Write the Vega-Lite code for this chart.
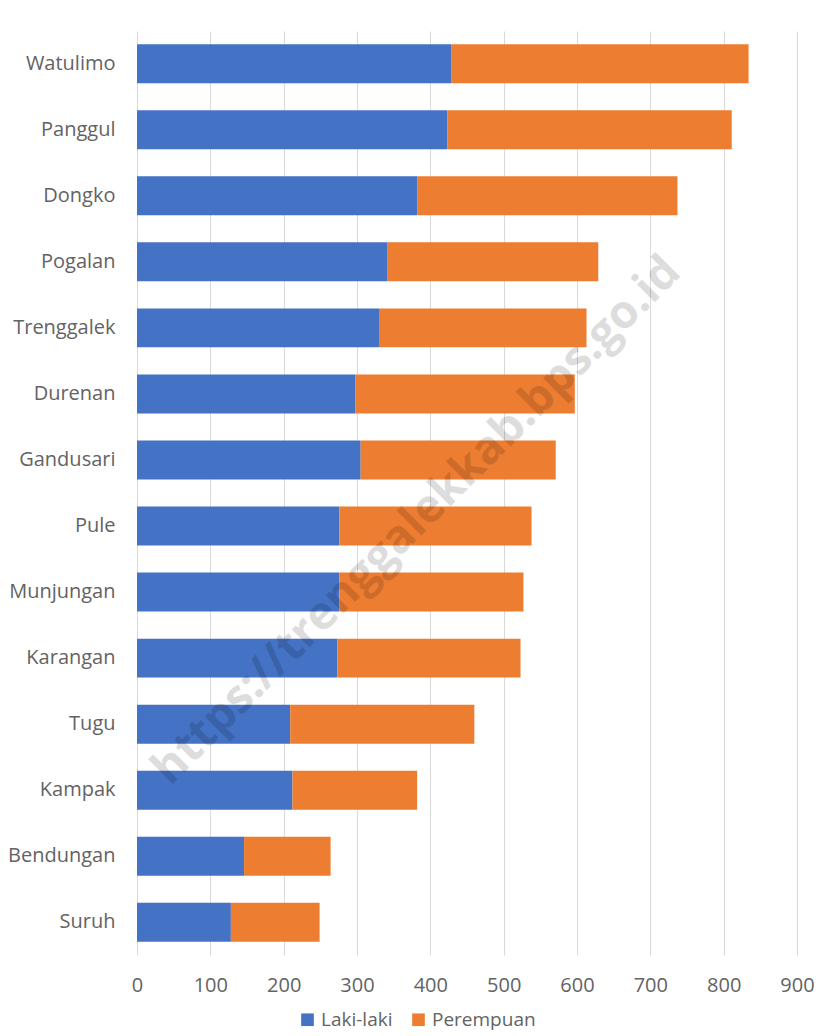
{
  "$schema": "https://vega.github.io/schema/vega-lite/v6.json",
  "width": 660,
  "height": 924,
  "autosize": {"type": "none"},
  "padding": {"left": 137, "top": 31, "right": 22, "bottom": 81},
  "background": "white",
  "datasets": {
    "pop": [
      {"kecamatan": "Watulimo", "jk": "Laki-laki", "n": 429},
      {"kecamatan": "Watulimo", "jk": "Perempuan", "n": 405},
      {"kecamatan": "Panggul", "jk": "Laki-laki", "n": 423},
      {"kecamatan": "Panggul", "jk": "Perempuan", "n": 388},
      {"kecamatan": "Dongko", "jk": "Laki-laki", "n": 382},
      {"kecamatan": "Dongko", "jk": "Perempuan", "n": 355},
      {"kecamatan": "Pogalan", "jk": "Laki-laki", "n": 341},
      {"kecamatan": "Pogalan", "jk": "Perempuan", "n": 288},
      {"kecamatan": "Trenggalek", "jk": "Laki-laki", "n": 330},
      {"kecamatan": "Trenggalek", "jk": "Perempuan", "n": 283},
      {"kecamatan": "Durenan", "jk": "Laki-laki", "n": 298},
      {"kecamatan": "Durenan", "jk": "Perempuan", "n": 299},
      {"kecamatan": "Gandusari", "jk": "Laki-laki", "n": 305},
      {"kecamatan": "Gandusari", "jk": "Perempuan", "n": 266},
      {"kecamatan": "Pule", "jk": "Laki-laki", "n": 276},
      {"kecamatan": "Pule", "jk": "Perempuan", "n": 262},
      {"kecamatan": "Munjungan", "jk": "Laki-laki", "n": 276},
      {"kecamatan": "Munjungan", "jk": "Perempuan", "n": 251},
      {"kecamatan": "Karangan", "jk": "Laki-laki", "n": 273},
      {"kecamatan": "Karangan", "jk": "Perempuan", "n": 250},
      {"kecamatan": "Tugu", "jk": "Laki-laki", "n": 209},
      {"kecamatan": "Tugu", "jk": "Perempuan", "n": 251},
      {"kecamatan": "Kampak", "jk": "Laki-laki", "n": 212},
      {"kecamatan": "Kampak", "jk": "Perempuan", "n": 170},
      {"kecamatan": "Bendungan", "jk": "Laki-laki", "n": 146},
      {"kecamatan": "Bendungan", "jk": "Perempuan", "n": 118},
      {"kecamatan": "Suruh", "jk": "Laki-laki", "n": 128},
      {"kecamatan": "Suruh", "jk": "Perempuan", "n": 121}
    ],
    "wm": [
      {"kecamatan": "Pule", "n": 389, "label": "https://trenggalekkab.bps.go.id"}
    ]
  },
  "layer": [
    {
      "data": {"name": "pop"},
      "mark": {"type": "bar"},
      "encoding": {
        "y": {
          "field": "kecamatan",
          "type": "nominal",
          "sort": null,
          "scale": {"paddingInner": 0.41, "paddingOuter": 0.2},
          "axis": {
            "title": null,
            "domain": false,
            "ticks": false,
            "grid": false,
            "labelPadding": 22,
            "labelFontSize": 20,
            "labelFont": "Open Sans",
            "labelColor": "#636363"
          }
        },
        "x": {
          "field": "n",
          "type": "quantitative",
          "stack": "zero",
          "scale": {"domain": [0, 900], "nice": false},
          "axis": {
            "title": null,
            "values": [0, 100, 200, 300, 400, 500, 600, 700, 800, 900],
            "domain": false,
            "ticks": false,
            "grid": true,
            "gridColor": "#D9D9D9",
            "gridWidth": 1,
            "labelFlush": false,
            "labelPadding": 20,
            "labelFontSize": 20,
            "labelFont": "Open Sans",
            "labelColor": "#636363"
          }
        },
        "color": {
          "field": "jk",
          "type": "nominal",
          "scale": {"domain": ["Laki-laki", "Perempuan"], "range": ["#4472C4", "#ED7D31"]},
          "legend": {
            "title": null,
            "orient": "none",
            "legendX": 161,
            "legendY": 979,
            "direction": "horizontal",
            "symbolType": "square",
            "symbolSize": 160,
            "symbolStrokeWidth": 0,
            "labelFontSize": 19,
            "labelFont": "Open Sans",
            "labelColor": "#636363",
            "labelOffset": 4,
            "columnPadding": 16
          }
        },
        "order": {"field": "jk", "sort": "ascending"}
      }
    },
    {
      "data": {"name": "wm"},
      "mark": {
        "type": "text",
        "angle": -45,
        "font": "Open Sans",
        "fontWeight": "bold",
        "fontSize": 46,
        "fill": "#000000",
        "opacity": 0.13,
        "align": "center",
        "baseline": "middle",
        "dy": -8
      },
      "encoding": {
        "y": {"field": "kecamatan", "type": "nominal", "sort": null},
        "x": {"field": "n", "type": "quantitative"},
        "text": {"field": "label"}
      }
    }
  ],
  "config": {
    "view": {"stroke": null}
  }
}
